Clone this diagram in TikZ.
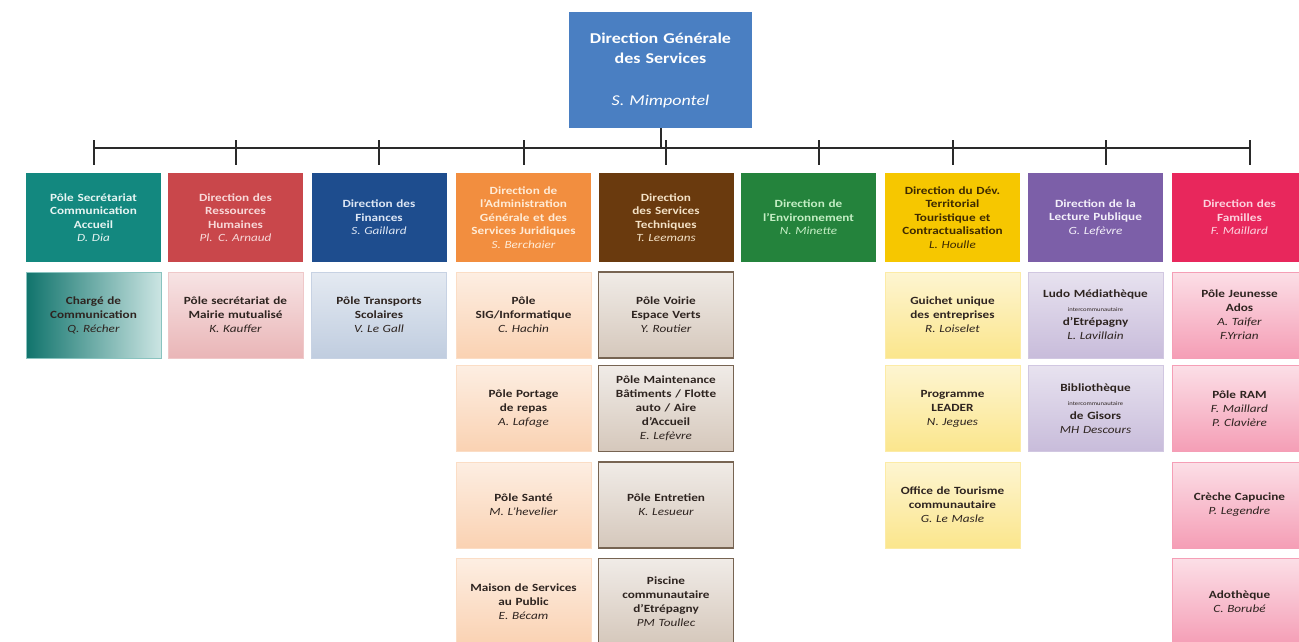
\documentclass[tikz,border=0pt]{standalone}
\usepackage{fontspec}
\setmainfont{Carlito}[FakeStretch=1.2]
\newcommand\pname[1]{{\mdseries\itshape #1}}
\newcommand\tinyline[1]{{\mdseries\fontsize{5.5}{7}\selectfont #1}}
\definecolor{cTop}{HTML}{4A7FC2}
\definecolor{cA}{HTML}{13887F}\definecolor{tA}{HTML}{E6F4F2}
\definecolor{cB}{HTML}{C9474B}\definecolor{tB}{HTML}{F8D8D8}
\definecolor{cC}{HTML}{1E4D8E}\definecolor{tC}{HTML}{DDE6F4}
\definecolor{cD}{HTML}{F28E3F}\definecolor{tD}{HTML}{FFEBD6}
\definecolor{cE}{HTML}{6A3A0E}\definecolor{tE}{HTML}{F3E1C6}
\definecolor{cF}{HTML}{24833C}\definecolor{tF}{HTML}{C4EEC4}
\definecolor{cG}{HTML}{F6C700}\definecolor{tG}{HTML}{3E2A00}
\definecolor{cH}{HTML}{7C5FA8}\definecolor{tH}{HTML}{F4F0FA}
\definecolor{cI}{HTML}{E8275C}\definecolor{tI}{HTML}{FCD2DE}
\definecolor{lineC}{HTML}{2A2A2A}
\definecolor{subtxt}{HTML}{2E2420}
\tikzset{
  box/.style={align=center, inner sep=2pt, text width=128pt},
  topbox/.style={box, fill=cTop, text=white, minimum width=183pt, minimum height=116pt, text width=175pt,
     font=\bfseries\fontsize{15}{20}\selectfont},
  hdr/.style={box, minimum width=135pt, minimum height=89pt, font=\bfseries\fontsize{11}{13.5}\selectfont},
  sub/.style={box, minimum width=135pt, minimum height=86pt, text=subtxt, line width=0.8pt,
     font=\bfseries\fontsize{11}{14}\selectfont},
  subA/.style={sub, left color=cA!85!black, right color=cA!22!white, draw=cA!50},
  subB/.style={sub, top color=cB!15!white, bottom color=cB!40!white, draw=cB!30},
  subC/.style={sub, top color=cC!12!white, bottom color=cC!28!white, draw=cC!25},
  subD/.style={sub, top color=cD!15!white, bottom color=cD!40!white, draw=cD!30},
  subE/.style={sub, top color=cE!10!white, bottom color=cE!28!white, draw=cE!40!gray, line width=1.5pt},
  subG/.style={sub, top color=cG!18!white, bottom color=cG!45!white, draw=cG!35},
  subH/.style={sub, top color=cH!18!white, bottom color=cH!42!white, draw=cH!35},
  subI/.style={sub, top color=cI!15!white, bottom color=cI!45!white, draw=cI!45},
  conn/.style={draw=lineC, line width=2pt}
}
\begin{document}
\begin{tikzpicture}[x=1pt,y=-1pt]
\useasboundingbox (0,0) rectangle (1299,642);
\clip (0,0) rectangle (1299,642);
\fill[white] (0,0) rectangle (1299,642);

% top
\node[topbox] (top) at (660.5,70) {Direction Générale\\des Services\\[22pt]\pname{S. Mimpontel}};

% headers
\node[hdr, fill=cA, text=tA] (h1) at (93.5,217.5) {Pôle Secrétariat\\Communication\\Accueil\\\pname{D. Dia}};
\node[hdr, fill=cB, text=tB] (h2) at (235.5,217.5) {Direction des\\Ressources\\Humaines\\\pname{Pl. C. Arnaud}};
\node[hdr, fill=cC, text=tC] (h3) at (379,217.5) {Direction des\\Finances\\\pname{S. Gaillard}};
\node[hdr, fill=cD, text=tD] (h4) at (523.5,217.5) {Direction de\\l'Administration\\Générale et des\\Services Juridiques\\\pname{S. Berchaier}};
\node[hdr, fill=cE, text=tE] (h5) at (666,217.5) {Direction\\des Services\\Techniques\\\pname{T. Leemans}};
\node[hdr, fill=cF, text=tF] (h6) at (808.5,217.5) {Direction de\\l'Environnement\\\pname{N. Minette}};
\node[hdr, fill=cG, text=tG] (h7) at (952.5,217.5) {Direction du Dév.\\Territorial\\Touristique et\\Contractualisation\\\pname{L. Houlle}};
\node[hdr, fill=cH, text=tH] (h8) at (1095.5,217.5) {Direction de la\\Lecture Publique\\\pname{G. Lefèvre}};
\node[hdr, fill=cI, text=tI] (h9) at (1239.5,217.5) {Direction des\\Familles\\\pname{F. Maillard}};

% connectors
\coordinate (busL) at (93,148);
\coordinate (busR) at (1249,148);
\draw[conn] (top.south) -- (top.south |- busL);
\draw[conn] (busL) -- (busR);
\foreach \n/\dx in {h1/0,h2/0,h3/0,h4/0,h5/0,h6/10,h7/0,h8/10,h9/10}{
  \draw[conn] ([xshift=\dx pt, yshift=8pt]\n.north) -- ([xshift=\dx pt, yshift=8pt]\n.north |- busL);
}

% sub boxes
\node[subA] (s1a) at (93.5,315) {Chargé de\\Communication\\\pname{Q. Récher}};
\node[subB] (s2a) at (235.5,315) {Pôle secrétariat de\\Mairie mutualisé\\\pname{K. Kauffer}};
\node[subC] (s3a) at (379,315) {Pôle Transports\\Scolaires\\\pname{V. Le Gall}};

\node[subD] (s4a) at (523.5,315) {Pôle\\SIG/Informatique\\\pname{C. Hachin}};
\node[subD] (s4b) at (523.5,408.5) {Pôle Portage\\de repas\\\pname{A. Lafage}};
\node[subD] (s4c) at (523.5,505) {Pôle Santé\\\pname{M. L'hevelier}};
\node[subD] (s4d) at (523.5,601.5) {Maison de Services\\au Public\\\pname{E. Bécam}};

\node[subE] (s5a) at (666,315) {Pôle Voirie\\Espace Verts\\\pname{Y. Routier}};
\node[subE] (s5b) at (666,408.5) {Pôle Maintenance\\Bâtiments / Flotte\\auto / Aire\\d'Accueil\\\pname{E. Lefèvre}};
\node[subE] (s5c) at (666,505) {Pôle Entretien\\\pname{K. Lesueur}};
\node[subE] (s5d) at (666,601.5) {Piscine\\communautaire\\d'Etrépagny\\\pname{PM Toullec}};

\node[subG] (s7a) at (952.5,315) {Guichet unique\\des entreprises\\\pname{R. Loiselet}};
\node[subG] (s7b) at (952.5,408.5) {Programme\\LEADER\\\pname{N. Jegues}};
\node[subG] (s7c) at (952.5,505) {Office de Tourisme\\communautaire\\\pname{G. Le Masle}};

\node[subH] (s8a) at (1095.5,315) {Ludo Médiathèque\\\tinyline{intercommunautaire}\\d'Etrépagny\\\pname{L. Lavillain}};
\node[subH] (s8b) at (1095.5,408.5) {Bibliothèque\\\tinyline{intercommunautaire}\\de Gisors\\\pname{MH Descours}};

\node[subI] (s9a) at (1239.5,315) {Pôle Jeunesse\\Ados\\\pname{A. Taifer}\\\pname{F.Yrrian}};
\node[subI] (s9b) at (1239.5,408.5) {Pôle RAM\\\pname{F. Maillard}\\\pname{P. Clavière}};
\node[subI] (s9c) at (1239.5,505) {Crèche Capucine\\\pname{P. Legendre}};
\node[subI] (s9d) at (1239.5,601.5) {Adothèque\\\pname{C. Borubé}};
\end{tikzpicture}
\end{document}
